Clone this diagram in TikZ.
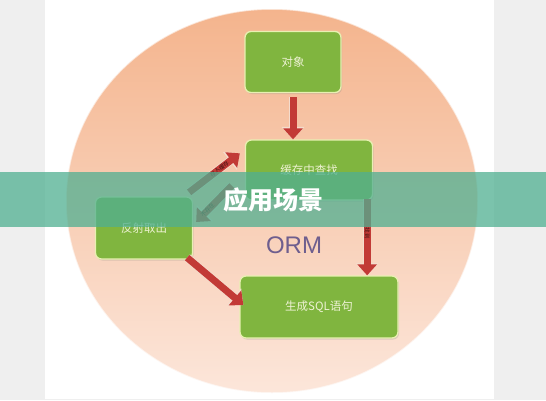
\documentclass[tikz,border=0pt]{standalone}
\usepackage{fontspec}
\setmainfont{Liberation Sans}
\newfontfamily\cjk{Noto Sans CJK SC}
\usetikzlibrary{arrows.meta,calc,shadows}
\definecolor{pagegray}{HTML}{EFEFEF}
\definecolor{peachtop}{HTML}{F4B48D}
\definecolor{peachbot}{HTML}{FCE6DA}
\definecolor{boxgreen}{HTML}{80B53F}
\definecolor{boxrim}{HTML}{E8F0B2}
\definecolor{boxtext}{HTML}{EEF2D4}
\definecolor{arrowred}{HTML}{C23A36}
\definecolor{arrowrim}{HTML}{F4DCCD}
\definecolor{ormpurple}{HTML}{6E5E8E}
\definecolor{bannerteal}{RGB}{80,175,145}
\tikzset{
  greenbox/.style={draw=boxrim, line width=1.3pt, fill=boxgreen, rounded corners=6pt,
    text=boxtext, font=\cjk\fontsize{11.5}{13}\selectfont, anchor=center,
    drop shadow={shadow xshift=1pt, shadow yshift=-1.5pt, opacity=0.25}},
  blockarrow/.style={draw=arrowred, line width=7pt,
    -{Triangle[width=19pt,length=11pt]},
    preaction={draw=arrowrim, line width=8.5pt, -{Triangle[width=22pt,length=12.5pt]}}},
  arrowlabel/.style={font=\cjk\fontsize{5.5}{6}\selectfont, text=black!70!arrowred, sloped, inner sep=0pt}
}
\begin{document}
\begin{tikzpicture}[x=1pt,y=-1pt]
\useasboundingbox (0,0) rectangle (546,400);
% page
\fill[pagegray] (0,0) rectangle (546,400);
\fill[white] (45,0) rectangle (494,399);
% disc
\shade[top color=peachtop, bottom color=peachbot] (272,201) ellipse [x radius=206, y radius=192];
\draw[white, opacity=0.6, line width=1.5pt] (272,201) ellipse [x radius=206, y radius=192];
% boxes
\node[greenbox, minimum width=96pt, minimum height=61pt] (obj) at (293,62) {对象};
\node[greenbox, minimum width=127pt, minimum height=60pt] (cache) at (309,170) {缓存中查找};
\node[greenbox, minimum width=97pt, minimum height=62pt] (fan) at (144,228) {反射取出};
\node[greenbox, minimum width=158pt, minimum height=62pt] (sql) at (319,307) {生成SQL语句};
% ORM label
\node[font=\fontsize{24}{28}\selectfont, text=ormpurple] (orm) at (294,245) {ORM};
% arrows
\draw[blockarrow] ($(obj.south)+(0,4)$) coordinate (a1) -- (a1 |- cache.north);
\draw[blockarrow] ($(cache.south east)+(-6,-2)$) coordinate (a2) -- (a2 |- sql.north)
  node[arrowlabel, pos=0.45] (l2) {找到};
\draw[blockarrow] ($(fan.north east)+(-4,-4)$) -- ($(cache.north west)+(-5,14)$)
  node[arrowlabel, pos=0.6] (l1) {存入缓存};
\draw[blockarrow] ($(cache.south west)+(-13,-15)$) -- ($(fan.east)+(3,-6)$)
  node[arrowlabel, pos=0.68] (l3) {不存在};
\draw[blockarrow] ($(fan.south east)+(-6,-2)$) -- ($(sql.west)+(4,-2)$);
% banner
\fill[bannerteal, opacity=0.75] (0,172) rectangle (546,227);
\node[font=\cjk\bfseries\fontsize{25}{28}\selectfont, text=white, inner sep=0pt] (title) at (273,200) {应用场景};
\end{tikzpicture}
\end{document}
